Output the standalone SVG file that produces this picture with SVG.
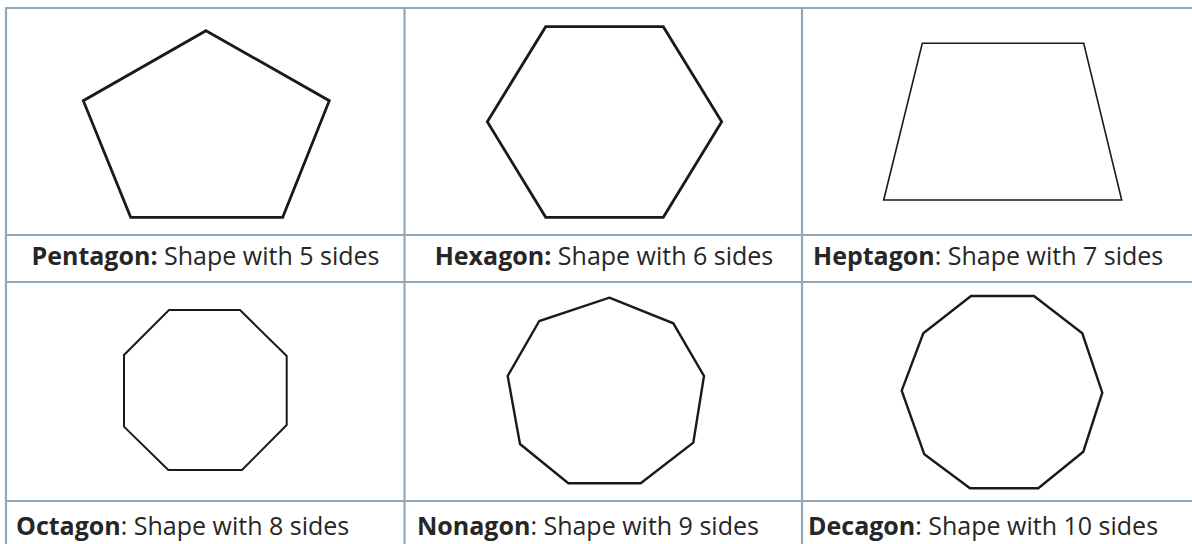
<svg xmlns="http://www.w3.org/2000/svg" width="1192" height="544" viewBox="0 0 1192 544">
  <style>
    .grid { stroke: #8FA9BC; stroke-width: 2.2; fill: none; }
    .shape { fill: none; stroke: #1a1a1a; stroke-linejoin: miter; }
    .lbl { font-family: "Open Sans", "Noto Sans", sans-serif; font-size: 25px; fill: #262626; }
    .b { font-weight: bold; }
  </style>
  <rect x="0" y="0" width="1192" height="544" fill="#ffffff"/>
  <g id="grid">
    <line class="grid" x1="6" y1="8" x2="1192" y2="8"/>
    <line class="grid" x1="6" y1="235" x2="1192" y2="235"/>
    <line class="grid" x1="6" y1="282" x2="1192" y2="282"/>
    <line class="grid" x1="6" y1="501" x2="1192" y2="501"/>
    <line class="grid" x1="6" y1="7" x2="6" y2="544"/>
    <line class="grid" x1="404.5" y1="7" x2="404.5" y2="544"/>
    <line class="grid" x1="802" y1="7" x2="802" y2="544"/>
  </g>
  <g id="pentagon">
    <polygon class="shape" stroke-width="2.8" points="206,30.7 329.3,100.7 282.7,217.3 130.7,217.3 83.3,100.7"/>
    <text class="lbl" x="205.5" y="265" text-anchor="middle"><tspan class="b">Pentagon:</tspan> Shape with 5 sides</text>
  </g>
  <g id="hexagon">
    <polygon class="shape" stroke-width="2.8" points="545.7,26.7 663.3,26.7 721.7,121.7 663.3,217.3 545.7,217.3 487.3,121.7"/>
    <text class="lbl" x="604" y="265" text-anchor="middle"><tspan class="b">Hexagon:</tspan> Shape with 6 sides</text>
  </g>
  <g id="heptagon">
    <polygon class="shape" stroke-width="1.6" points="922.3,43.3 1083.7,43.3 1121.7,200 883.7,200"/>
    <text class="lbl" x="813" y="265"><tspan class="b">Heptagon</tspan>: Shape with 7 sides</text>
  </g>
  <g id="octagon">
    <polygon class="shape" stroke-width="2" points="169,310 240,310 286.7,356 286.7,425 242,470 168.3,470 124,426.7 124,355"/>
    <text class="lbl" x="16" y="535"><tspan class="b">Octagon</tspan>: Shape with 8 sides</text>
  </g>
  <g id="nonagon">
    <polygon class="shape" stroke-width="2.4" points="609.3,297.7 673.3,323.3 704,376 693.3,442.7 640.7,483.3 568.3,483.3 520,444 507.7,376 539.3,321"/>
    <text class="lbl" x="417" y="535"><tspan class="b">Nonagon</tspan>: Shape with 9 sides</text>
  </g>
  <g id="decagon">
    <polygon class="shape" stroke-width="2.4" points="971,296 1034,296 1082.3,333.3 1102.3,392.7 1083.3,451.7 1038.3,488.3 970,488.3 924.3,454.3 901.7,390.7 923.3,333.3"/>
    <text class="lbl" x="808" y="535"><tspan class="b">Decagon</tspan>: Shape with 10 sides</text>
  </g>
</svg>
